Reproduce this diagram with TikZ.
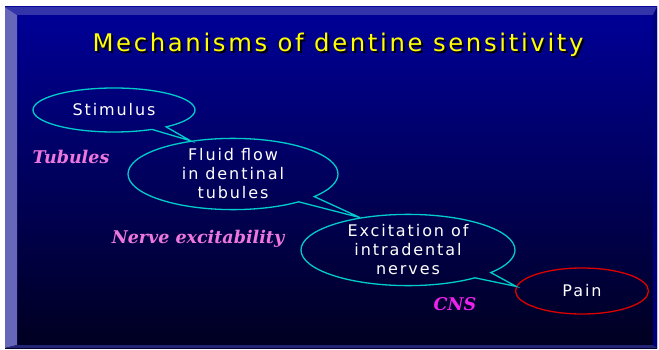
\documentclass[tikz,border=0pt]{standalone}
\usepackage{fontspec}
\setmainfont{DejaVu Sans}
\newfontfamily\titlefont[LetterSpace=11]{DejaVu Sans}
\newfontfamily\bubblefont[LetterSpace=12]{DejaVu Sans}
\newfontfamily\factorfont{DejaVu Serif}
\usetikzlibrary{shapes.callouts,shapes.geometric}

\definecolor{slidetop}{HTML}{000099}
\definecolor{slidemid}{HTML}{00007C}
\definecolor{slidebot}{HTML}{000020}
\definecolor{bevelleft}{HTML}{6666BB}
\definecolor{beveltop}{HTML}{3333AA}
\definecolor{bubbleline}{HTML}{00CCCC}
\definecolor{painline}{HTML}{DD0000}
\definecolor{titleyellow}{HTML}{FFFF00}
\definecolor{factorpink}{HTML}{EE77DD}
\definecolor{cnsmagenta}{HTML}{EE22EE}

\tikzset{
  bubble/.style={ellipse callout, draw=bubbleline, line width=1.3pt, inner sep=0pt,
    callout pointer arc=12, text=white, align=center,
    font=\bubblefont\fontsize{16}{19}\selectfont},
  painbubble/.style={ellipse, draw=painline, line width=1.3pt, inner sep=0pt,
    text=white, font=\bubblefont\fontsize{16}{19}\selectfont},
  factor/.style={font=\factorfont\bfseries\itshape\fontsize{17.5}{20}\selectfont},
  titletext/.style={font=\titlefont\fontsize{24.3}{27}\selectfont},
}

\begin{document}
\begin{tikzpicture}[x=1pt,y=-1pt]
\useasboundingbox (0,0) rectangle (659,350);
\fill[white] (0,0) rectangle (659,350);

% slide background
\shade[top color=slidetop, middle color=slidemid, bottom color=slidebot] (5,7) rectangle (657,348);
\fill[bevelleft] (5,7) -- (17,15) -- (17,345) -- (5,348) -- cycle;
\fill[beveltop] (5,7) -- (657,7) -- (653,15) -- (17,15) -- cycle;
\fill[slidetop!80!black] (657,7) -- (653,15) -- (653,345) -- (657,348) -- cycle;
\fill[beveltop!70!black] (5,348) -- (17,345) -- (653,345) -- (657,348) -- cycle;

% title
\node[titletext, black] (titleshadow) at (340,47) {Mechanisms of dentine sensitivity};
\node[titletext, titleyellow] (title) at (338,45) {Mechanisms of dentine sensitivity};

% chain of bubbles, last one first
\node[painbubble, minimum width=133pt, minimum height=46pt] (pain) at (582,291) {Pain};
\node[bubble, minimum width=214pt, minimum height=70pt,
  callout absolute pointer={(pain.176)}] (excite) at (408,250) {Excitation of\\intradental\\nerves};
\node[bubble, minimum width=210pt, minimum height=70pt,
  callout absolute pointer={(excite.146)}] (fluid) at (233,174) {Fluid flow\\in dentinal\\tubules};
\node[bubble, minimum width=162pt, minimum height=44pt,
  callout absolute pointer={(fluid.142)}] (stimulus) at (114,110) {Stimulus};

% factors between the steps
\node[factor, factorpink] (tubules) at (71,157) {Tubules};
\node[factor, factorpink] (nerve) at (198,239) {Nerve excitability};
\node[factor, cnsmagenta] (cns) at (455,304) {CNS};
\end{tikzpicture}
\end{document}
